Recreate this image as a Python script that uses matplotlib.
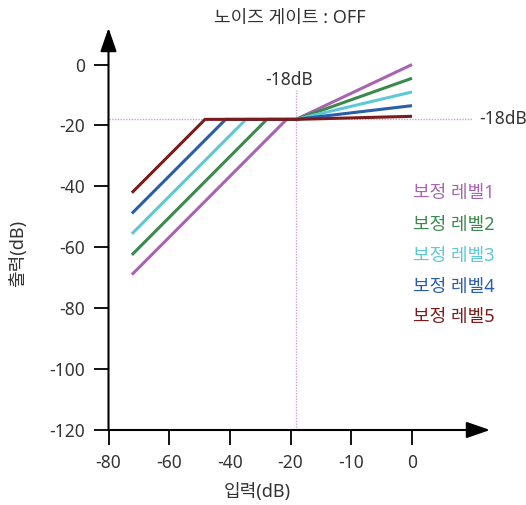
import matplotlib
matplotlib.use("Agg")
import matplotlib.pyplot as plt

plt.rcParams['font.family'] = ['Noto Sans', 'Noto Sans CJK KR', 'DejaVu Sans']

# Axis ticks
x_ticks = [-80, -60, -40, -20, 0, 20]
x_tick_labels = ['-80', '-60', '-40', '-20', '-10', '0']
y_ticks = [0, -20, -40, -60, -80, -100, -120]
y_tick_labels = ['0', '-20', '-40', '-60', '-80', '-100', '-120']

threshold = -18

# Correction curves: input / output break points per level
labels = ['보정 레벨1', '보정 레벨2', '보정 레벨3', '보정 레벨4', '보정 레벨5']
colors = ['#a864b0', '#3a8a4c', '#5ec8d6', '#2a5ea8', '#7a1c1e']
x_level1 = [-72.3, -21.3, -18.2, 20]
y_level1 = [-69.0, -18, -18, 0.0]
x_level2 = [-72.3, -27.8, -18.2, 20]
y_level2 = [-62.5, -18, -18, -4.5]
x_level3 = [-72.3, -34.7, -18.2, 20]
y_level3 = [-55.6, -18, -18, -9.0]
x_level4 = [-72.3, -41.4, -18.2, 20]
y_level4 = [-48.9, -18, -18, -13.5]
x_level5 = [-72.3, -48.2, -18.2, 20]
y_level5 = [-42.1, -18, -18, -17.0]
xs = [x_level1, x_level2, x_level3, x_level4, x_level5]
ys = [y_level1, y_level2, y_level3, y_level4, y_level5]

W, H = 526, 505
fig = plt.figure(figsize=(W / 100, H / 100), dpi=100)
ax = fig.add_axes([108.5 / W, (H - 430) / H, (490 - 108.5) / W, (430 - 28) / H])
ax.set_xlim(-80, 45.7)
ax.set_ylim(-120, 12)
for s in ax.spines.values():
    s.set_visible(False)

# Axis lines with arrow heads
arrow_kw = dict(arrowstyle='-|>,head_length=0.72,head_width=0.25', color='black',
                lw=1.5, mutation_scale=20, shrinkA=0, shrinkB=0)
ax.annotate('', xy=(1, 0), xytext=(0, 0), xycoords='axes fraction',
            textcoords='axes fraction', arrowprops=arrow_kw, annotation_clip=False)
ax.annotate('', xy=(0, 1), xytext=(0, 0), xycoords='axes fraction',
            textcoords='axes fraction', arrowprops=arrow_kw, annotation_clip=False)

ax.set_xticks(x_ticks, x_tick_labels)
ax.set_yticks(y_ticks, y_tick_labels)
ax.tick_params(axis='both', direction='out', length=11, width=1.3, color='black',
               labelsize=12.5, labelcolor='#333333', pad=6)

# Threshold guides
guide = dict(color='#d49ad8', lw=1.0, ls=(0, (1, 1)))
ax.plot([threshold - 0.2, threshold - 0.2], [-120, -8.4], **guide)
ax.plot([-80, 40], [threshold, threshold], **guide)
ax.text(-20.4, -5.2, '-18dB', ha='center', va='center', fontsize=12.5, color='#333333')
ax.text(42.2, threshold, '-18dB', ha='left', va='center', fontsize=12.5,
        color='#333333', clip_on=False)

for x, y, c in zip(xs, ys, colors):
    ax.plot(x, y, color=c, lw=2.2, solid_capstyle='butt', solid_joinstyle='miter')

legend_y = [-42.1, -52.6, -62.8, -73.0, -82.8]
for lab, c, ly in zip(labels, colors, legend_y):
    ax.text(20.2, ly, lab, color=c, ha='left', va='center', fontsize=13)

fig.text(290 / W, 1 - 18 / H, '노이즈 게이트 : OFF', ha='center', va='center',
         fontsize=13, color='#333333')
fig.text(18 / W, 1 - 253 / H, '출력(dB)', ha='center', va='center', rotation=90,
         fontsize=13, color='#333333')
fig.text(257 / W, 1 - 492 / H, '입력(dB)', ha='center', va='center',
         fontsize=13, color='#333333')

fig.savefig('out.png', dpi=100)
